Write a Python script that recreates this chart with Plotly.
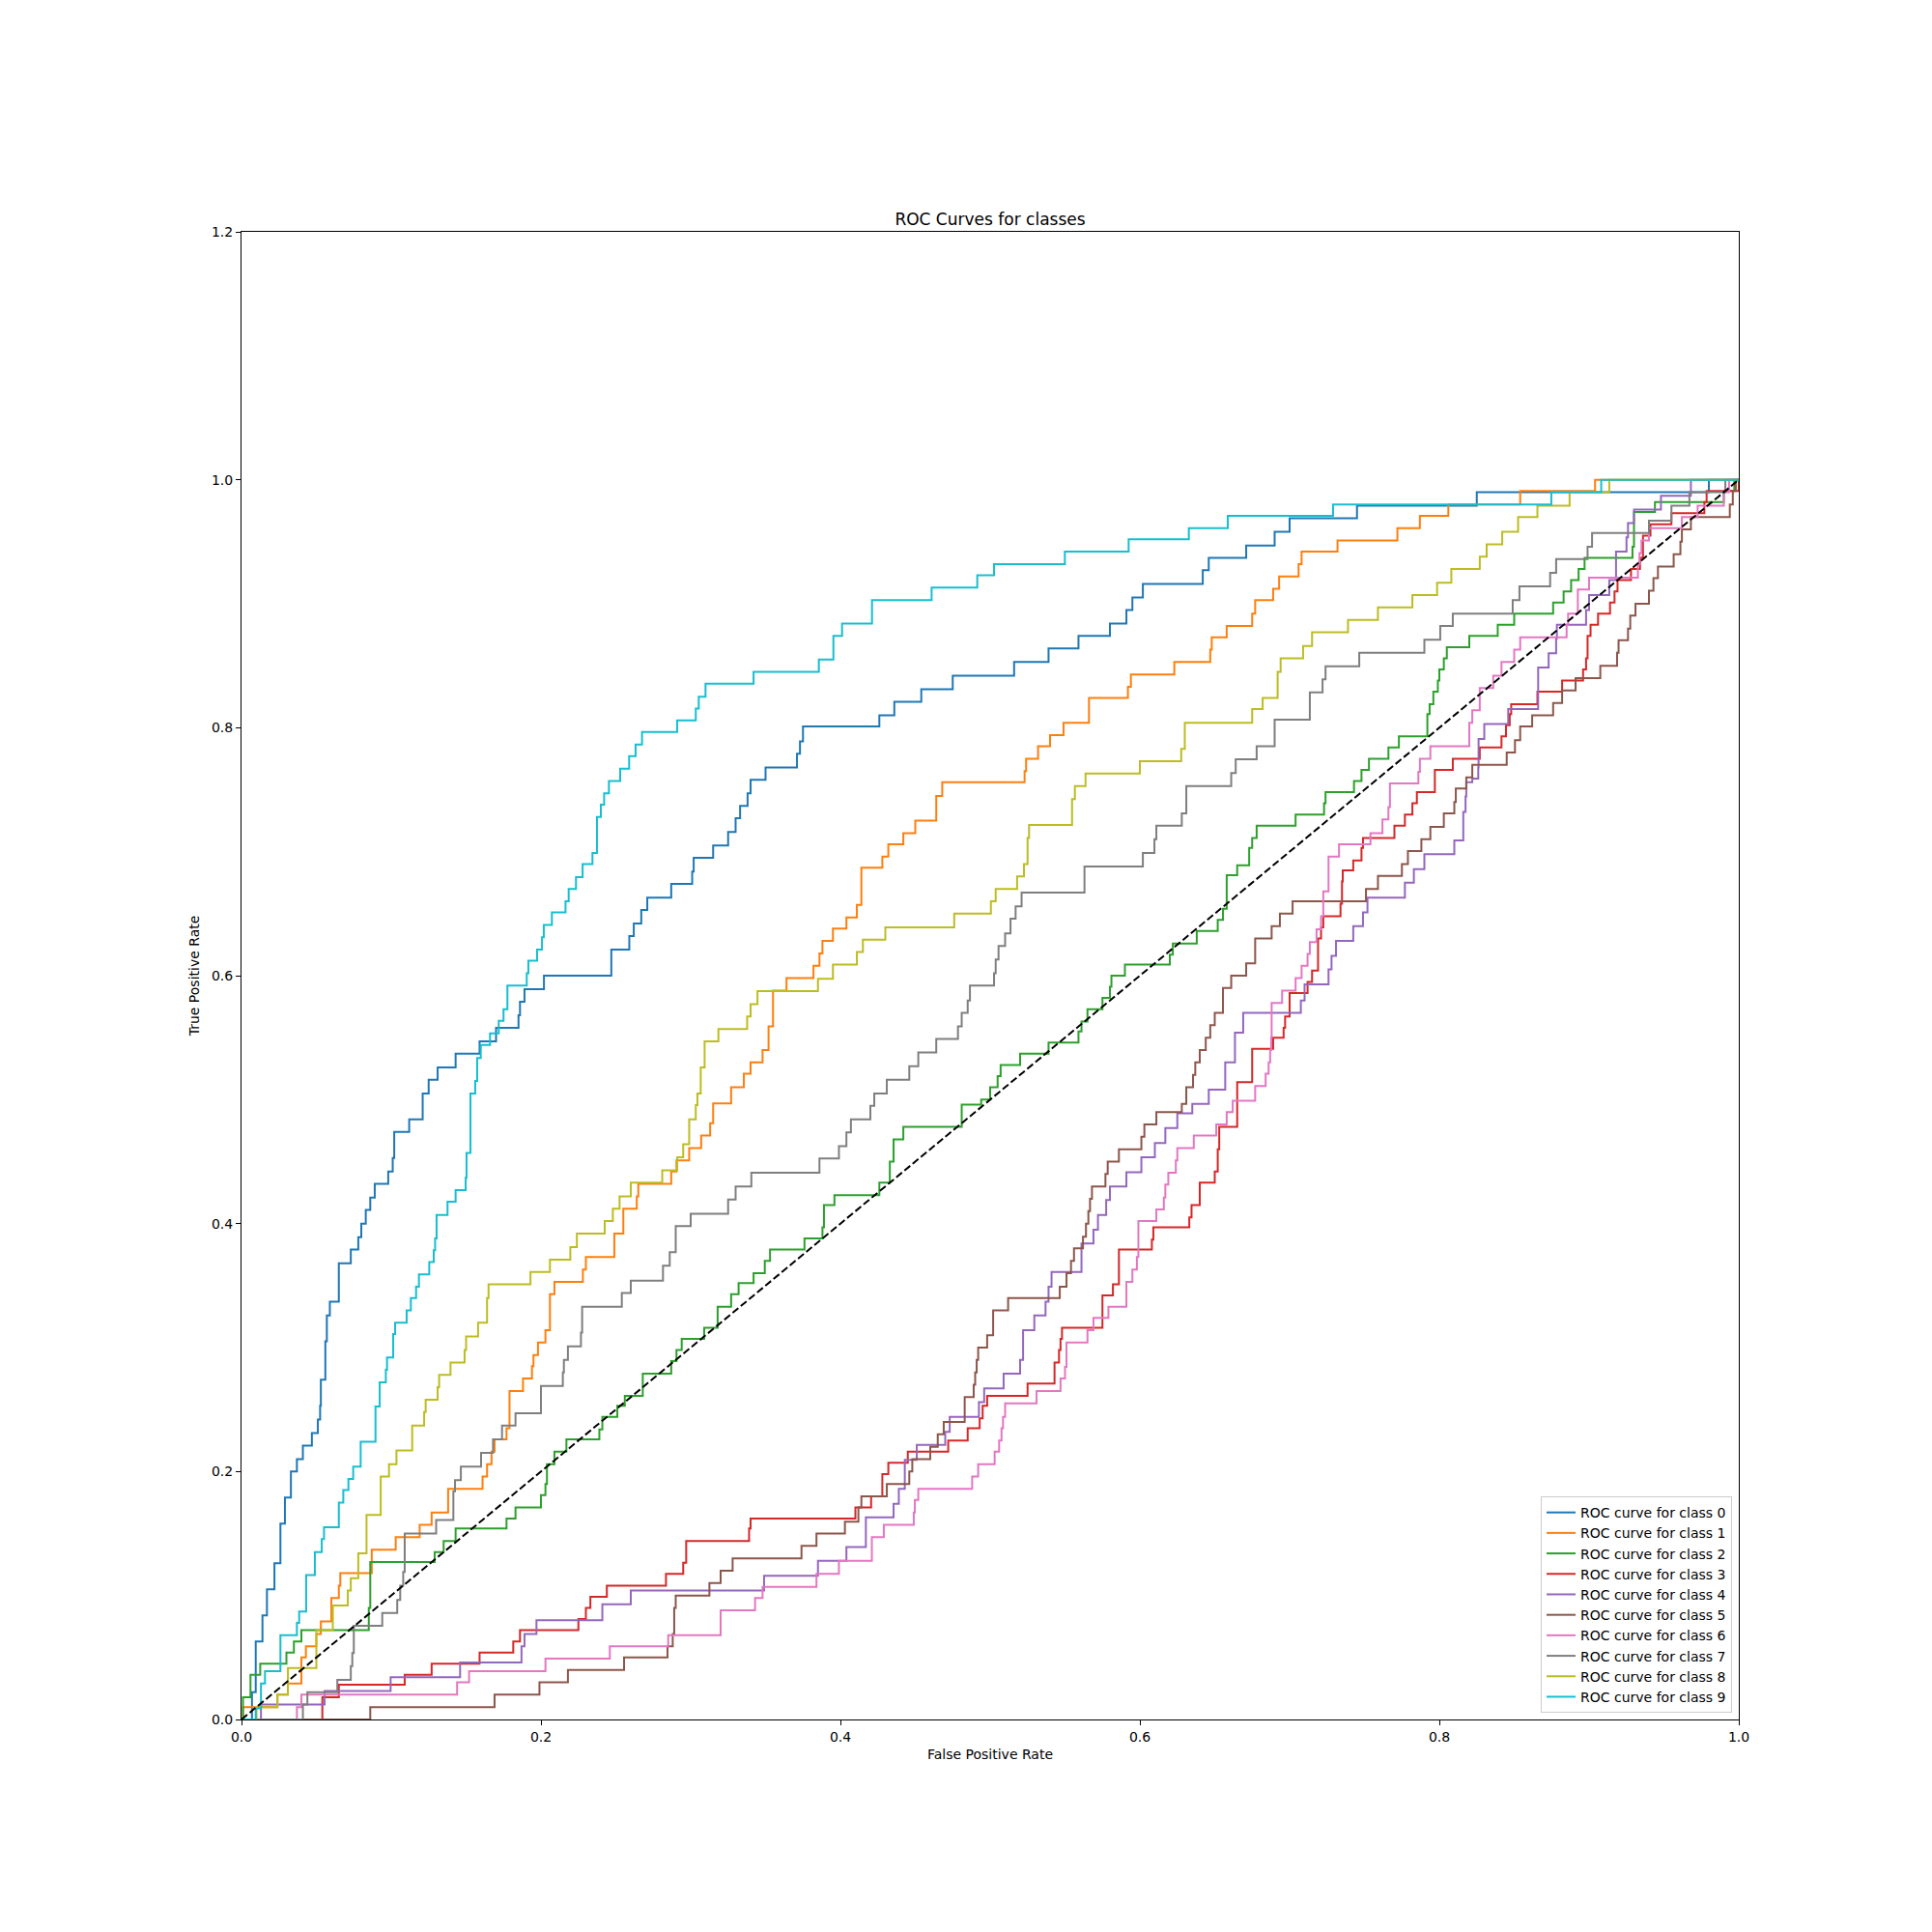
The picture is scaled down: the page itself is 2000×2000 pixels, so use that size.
import plotly.graph_objects as go

# ROC step points (fpr, tpr), one list per class
roc_class0 = [(0.0, 0.0), (0.007, 0.022), (0.0095, 0.063), (0.014, 0.084), (0.017, 0.105), (0.022, 0.126),
              (0.026, 0.158), (0.029, 0.179), (0.033, 0.200), (0.037, 0.210), (0.041, 0.221), (0.047, 0.231),
              (0.051, 0.242), (0.0525, 0.253), (0.053, 0.274), (0.056, 0.305), (0.057, 0.326), (0.059, 0.337),
              (0.065, 0.368), (0.073, 0.379), (0.078, 0.389), (0.080, 0.400), (0.083, 0.411), (0.086, 0.421),
              (0.089, 0.432), (0.098, 0.442), (0.101, 0.453), (0.102, 0.474), (0.112, 0.484), (0.121, 0.505),
              (0.125, 0.516), (0.131, 0.526), (0.143, 0.537), (0.159, 0.547), (0.170, 0.558), (0.185, 0.568),
              (0.186, 0.579), (0.189, 0.589), (0.202, 0.600), (0.247, 0.621), (0.259, 0.632), (0.262, 0.642),
              (0.267, 0.653), (0.271, 0.663), (0.287, 0.674), (0.301, 0.684), (0.302, 0.695), (0.315, 0.705),
              (0.325, 0.716), (0.330, 0.727), (0.333, 0.737), (0.338, 0.747), (0.340, 0.758), (0.350, 0.768),
              (0.371, 0.779), (0.373, 0.789), (0.375, 0.801), (0.426, 0.810), (0.436, 0.821), (0.454, 0.831),
              (0.475, 0.842), (0.516, 0.853), (0.539, 0.864), (0.559, 0.874), (0.580, 0.884), (0.591, 0.895),
              (0.595, 0.905), (0.602, 0.916), (0.642, 0.927), (0.646, 0.937), (0.671, 0.947), (0.690, 0.958),
              (0.700, 0.969), (0.745, 0.979), (0.825, 0.990), (0.980, 1.0), (1.0, 1.0)]

roc_class1 = [(0.0, 0.0), (0.001, 0.010), (0.024, 0.020), (0.031, 0.029), (0.040, 0.050), (0.043, 0.059),
              (0.050, 0.069), (0.053, 0.079), (0.060, 0.098), (0.065, 0.108), (0.066, 0.118), (0.087, 0.137),
              (0.103, 0.147), (0.119, 0.157), (0.127, 0.167), (0.138, 0.186), (0.161, 0.196), (0.164, 0.206),
              (0.167, 0.216), (0.169, 0.226), (0.177, 0.235), (0.179, 0.265), (0.188, 0.275), (0.194, 0.285),
              (0.195, 0.294), (0.198, 0.304), (0.203, 0.314), (0.206, 0.343), (0.209, 0.353), (0.228, 0.363),
              (0.230, 0.373), (0.249, 0.392), (0.255, 0.412), (0.264, 0.422), (0.265, 0.432), (0.287, 0.442),
              (0.2905, 0.451), (0.299, 0.461), (0.307, 0.471), (0.313, 0.481), (0.315, 0.497), (0.327, 0.510),
              (0.3355, 0.521), (0.340, 0.530), (0.348, 0.540), (0.352, 0.559), (0.355, 0.588), (0.364, 0.598),
              (0.382, 0.608), (0.386, 0.618), (0.388, 0.628), (0.395, 0.638), (0.404, 0.647), (0.411, 0.657),
              (0.414, 0.687), (0.428, 0.696), (0.432, 0.706), (0.442, 0.715), (0.450, 0.725), (0.464, 0.745),
              (0.468, 0.756), (0.523, 0.765), (0.524, 0.775), (0.532, 0.785), (0.540, 0.794), (0.549, 0.804),
              (0.566, 0.824), (0.592, 0.833), (0.594, 0.843), (0.623, 0.853), (0.647, 0.863), (0.648, 0.873),
              (0.658, 0.882), (0.675, 0.892), (0.677, 0.903), (0.689, 0.912), (0.693, 0.922), (0.706, 0.932),
              (0.708, 0.942), (0.732, 0.951), (0.772, 0.961), (0.787, 0.971), (0.806, 0.980), (0.854, 0.991),
              (0.904, 1.0), (1.0, 1.0)]

roc_class2 = [(0.0, 0.0), (0.001, 0.018), (0.006, 0.036), (0.0125, 0.045), (0.030, 0.054), (0.035, 0.063),
              (0.040, 0.072), (0.085, 0.090), (0.086, 0.127), (0.129, 0.135), (0.135, 0.144), (0.143, 0.154),
              (0.177, 0.162), (0.183, 0.171), (0.200, 0.181), (0.203, 0.190), (0.204, 0.206), (0.209, 0.216),
              (0.217, 0.226), (0.239, 0.234), (0.241, 0.244), (0.251, 0.253), (0.256, 0.261), (0.268, 0.279),
              (0.287, 0.289), (0.2905, 0.298), (0.294, 0.307), (0.309, 0.316), (0.318, 0.333), (0.327, 0.343),
              (0.332, 0.352), (0.342, 0.360), (0.3495, 0.370), (0.353, 0.379), (0.376, 0.388), (0.388, 0.397),
              (0.389, 0.415), (0.396, 0.423), (0.426, 0.433), (0.433, 0.450), (0.4355, 0.468), (0.442, 0.478),
              (0.481, 0.496), (0.494, 0.500), (0.500, 0.510), (0.505, 0.519), (0.507, 0.528), (0.520, 0.537),
              (0.539, 0.546), (0.559, 0.555), (0.561, 0.563), (0.565, 0.573), (0.575, 0.582), (0.580, 0.591),
              (0.581, 0.600), (0.590, 0.609), (0.620, 0.617), (0.622, 0.626), (0.638, 0.636), (0.652, 0.645),
              (0.6555, 0.654), (0.658, 0.681), (0.665, 0.689), (0.673, 0.703), (0.675, 0.711), (0.678, 0.721),
              (0.704, 0.730), (0.723, 0.739), (0.724, 0.748), (0.743, 0.757), (0.748, 0.766), (0.753, 0.775),
              (0.766, 0.784), (0.773, 0.793), (0.792, 0.811), (0.7935, 0.819), (0.796, 0.829), (0.799, 0.838),
              (0.800, 0.847), (0.803, 0.856), (0.805, 0.865), (0.820, 0.874), (0.839, 0.883), (0.850, 0.892),
              (0.876, 0.901), (0.883, 0.910), (0.888, 0.919), (0.893, 0.928), (0.897, 0.937), (0.929, 0.946),
              (0.930, 0.974), (0.944, 0.982), (0.990, 0.991), (0.997, 1.0), (1.0, 1.0)]

roc_class3 = [(0.0, 0.0), (0.054, 0.018), (0.065, 0.028), (0.109, 0.036), (0.127, 0.045), (0.159, 0.054),
              (0.1815, 0.063), (0.186, 0.072), (0.225, 0.081), (0.230, 0.090), (0.233, 0.099), (0.244, 0.108),
              (0.2835, 0.1175), (0.295, 0.1265), (0.297, 0.144), (0.339, 0.154), (0.340, 0.162), (0.410, 0.171),
              (0.4205, 0.180), (0.428, 0.198), (0.432, 0.207), (0.445, 0.216), (0.472, 0.225), (0.485, 0.235),
              (0.493, 0.243), (0.495, 0.253), (0.498, 0.261), (0.525, 0.271), (0.543, 0.288), (0.546, 0.298),
              (0.547, 0.307), (0.548, 0.316), (0.575, 0.342), (0.582, 0.351), (0.586, 0.379), (0.608, 0.387),
              (0.609, 0.397), (0.633, 0.405), (0.6345, 0.415), (0.640, 0.433), (0.650, 0.442), (0.652, 0.460),
              (0.653, 0.478), (0.665, 0.514), (0.675, 0.541), (0.689, 0.550), (0.696, 0.558), (0.697, 0.567),
              (0.700, 0.586), (0.712, 0.595), (0.715, 0.604), (0.719, 0.630), (0.721, 0.639), (0.7225, 0.648),
              (0.734, 0.658), (0.735, 0.676), (0.7355, 0.685), (0.7425, 0.693), (0.748, 0.703), (0.749, 0.711),
              (0.770, 0.721), (0.777, 0.730), (0.782, 0.739), (0.785, 0.748), (0.797, 0.766), (0.809, 0.775),
              (0.827, 0.784), (0.8415, 0.793), (0.8445, 0.802), (0.847, 0.811), (0.848, 0.819), (0.8655, 0.829),
              (0.882, 0.838), (0.896, 0.847), (0.898, 0.856), (0.899, 0.874), (0.901, 0.883), (0.906, 0.892),
              (0.914, 0.901), (0.917, 0.910), (0.919, 0.919), (0.928, 0.928), (0.934, 0.937), (0.936, 0.955),
              (0.941, 0.964), (0.955, 0.973), (0.977, 0.982), (0.9785, 0.991), (1.0, 1.0)]

roc_class4 = [(0.0, 0.0), (0.013, 0.012), (0.0555, 0.023), (0.0996, 0.034), (0.146, 0.046), (0.187, 0.059),
              (0.189, 0.069), (0.197, 0.080), (0.241, 0.093), (0.260, 0.104), (0.349, 0.116), (0.385, 0.128),
              (0.404, 0.139), (0.417, 0.163), (0.4355, 0.174), (0.439, 0.186), (0.443, 0.2095), (0.451, 0.2215),
              (0.470, 0.232), (0.473, 0.244), (0.4925, 0.256), (0.496, 0.267), (0.509, 0.279), (0.520, 0.290),
              (0.522, 0.314), (0.5295, 0.326), (0.537, 0.337), (0.539, 0.349), (0.541, 0.361), (0.561, 0.384),
              (0.569, 0.395), (0.572, 0.407), (0.5775, 0.419), (0.580, 0.430), (0.591, 0.4415), (0.601, 0.4535),
              (0.610, 0.465), (0.617, 0.477), (0.625, 0.489), (0.635, 0.4965), (0.646, 0.508), (0.657, 0.530),
              (0.6635, 0.554), (0.669, 0.570), (0.7075, 0.580), (0.710, 0.593), (0.726, 0.605), (0.728, 0.616),
              (0.731, 0.628), (0.7425, 0.640), (0.749, 0.651), (0.752, 0.663), (0.777, 0.675), (0.783, 0.686),
              (0.790, 0.698), (0.810, 0.709), (0.816, 0.732), (0.8175, 0.7445), (0.818, 0.756), (0.822, 0.759),
              (0.826, 0.768), (0.8262, 0.791), (0.830, 0.803), (0.846, 0.815), (0.866, 0.8485), (0.873, 0.860),
              (0.878, 0.872), (0.8785, 0.883), (0.898, 0.895), (0.900, 0.907), (0.9135, 0.919), (0.918, 0.942),
              (0.925, 0.9535), (0.926, 0.965), (0.930, 0.976), (0.948, 0.987), (0.968, 1.0), (1.0, 1.0)]

roc_class5 = [(0.0, 0.0), (0.086, 0.010), (0.169, 0.020), (0.199, 0.030), (0.218, 0.040), (0.2555, 0.050),
              (0.2845, 0.059), (0.288, 0.069), (0.289, 0.090), (0.290, 0.100), (0.3125, 0.110), (0.320, 0.120),
              (0.328, 0.130), (0.374, 0.140), (0.384, 0.150), (0.403, 0.1595), (0.412, 0.171), (0.414, 0.180),
              (0.431, 0.190), (0.446, 0.200), (0.448, 0.210), (0.460, 0.220), (0.465, 0.230), (0.469, 0.240),
              (0.483, 0.260), (0.489, 0.270), (0.490, 0.280), (0.491, 0.290), (0.492, 0.300), (0.498, 0.310),
              (0.502, 0.330), (0.512, 0.340), (0.5465, 0.349), (0.551, 0.360), (0.554, 0.370), (0.556, 0.380),
              (0.562, 0.3895), (0.564, 0.400), (0.5656, 0.410), (0.5667, 0.420), (0.568, 0.430), (0.577, 0.440),
              (0.5785, 0.450), (0.586, 0.460), (0.601, 0.470), (0.603, 0.480), (0.611, 0.490), (0.628, 0.4965),
              (0.631, 0.510), (0.6355, 0.520), (0.637, 0.530), (0.640, 0.540), (0.644, 0.550), (0.647, 0.560),
              (0.650, 0.570), (0.6555, 0.590), (0.661, 0.600), (0.671, 0.610), (0.677, 0.630), (0.688, 0.640),
              (0.6935, 0.650), (0.702, 0.660), (0.751, 0.670), (0.759, 0.6805), (0.775, 0.690), (0.779, 0.7005),
              (0.788, 0.710), (0.794, 0.720), (0.803, 0.731), (0.810, 0.740), (0.811, 0.751), (0.818, 0.760),
              (0.822, 0.770), (0.845, 0.780), (0.8505, 0.790), (0.854, 0.801), (0.862, 0.810), (0.876, 0.820),
              (0.882, 0.830), (0.891, 0.840), (0.9075, 0.850), (0.9187, 0.8605), (0.9197, 0.8705), (0.926, 0.880),
              (0.9275, 0.8905), (0.931, 0.900), (0.940, 0.9105), (0.943, 0.9206), (0.946, 0.930), (0.9565, 0.940),
              (0.961, 0.950), (0.962, 0.960), (0.968, 0.970), (0.994, 0.980), (0.996, 0.991), (0.998, 1.0),
              (1.0, 1.0)]

roc_class6 = [(0.0, 0.0), (0.037, 0.010), (0.040, 0.020), (0.144, 0.030), (0.152, 0.039), (0.203, 0.049),
              (0.246, 0.059), (0.285, 0.068), (0.320, 0.088), (0.343, 0.098), (0.348, 0.107), (0.384, 0.1175),
              (0.399, 0.128), (0.421, 0.147), (0.429, 0.157), (0.449, 0.167), (0.4497, 0.177), (0.452, 0.186),
              (0.488, 0.196), (0.492, 0.206), (0.503, 0.216), (0.506, 0.225), (0.5076, 0.235), (0.5086, 0.244),
              (0.510, 0.255), (0.531, 0.265), (0.547, 0.275), (0.550, 0.2845), (0.551, 0.304), (0.565, 0.314),
              (0.569, 0.324), (0.579, 0.333), (0.591, 0.353), (0.595, 0.363), (0.598, 0.373), (0.599, 0.402),
              (0.611, 0.4115), (0.616, 0.421), (0.617, 0.4315), (0.619, 0.441), (0.624, 0.451), (0.625, 0.461),
              (0.636, 0.471), (0.651, 0.480), (0.658, 0.490), (0.662, 0.499), (0.677, 0.511), (0.684, 0.521),
              (0.686, 0.530), (0.687, 0.540), (0.6877, 0.550), (0.688, 0.578), (0.695, 0.588), (0.704, 0.598),
              (0.708, 0.608), (0.712, 0.6175), (0.7135, 0.627), (0.718, 0.6375), (0.721, 0.648), (0.7225, 0.668),
              (0.726, 0.696), (0.733, 0.706), (0.754, 0.715), (0.762, 0.726), (0.766, 0.736), (0.767, 0.755),
              (0.786, 0.7645), (0.787, 0.775), (0.794, 0.785), (0.820, 0.804), (0.822, 0.814), (0.827, 0.832),
              (0.836, 0.842), (0.8415, 0.853), (0.850, 0.863), (0.854, 0.873), (0.885, 0.883), (0.886, 0.892),
              (0.8925, 0.9115), (0.900, 0.921), (0.9326, 0.932), (0.9337, 0.941), (0.935, 0.951), (0.940, 0.961),
              (0.962, 0.970), (0.9725, 0.979), (0.990, 0.990), (0.9935, 1.0), (1.0, 1.0)]

roc_class7 = [(0.0, 0.0), (0.041, 0.012), (0.044, 0.022), (0.064, 0.032), (0.073, 0.043), (0.074, 0.0535),
              (0.075, 0.0755), (0.094, 0.086), (0.104, 0.0965), (0.106, 0.108), (0.108, 0.119), (0.109, 0.150),
              (0.130, 0.161), (0.1415, 0.184), (0.1426, 0.193), (0.1465, 0.204), (0.160, 0.215), (0.168, 0.226),
              (0.174, 0.237), (0.183, 0.247), (0.200, 0.269), (0.2146, 0.280), (0.2153, 0.290), (0.218, 0.301),
              (0.2267, 0.312), (0.2275, 0.333), (0.254, 0.344), (0.260, 0.354), (0.2815, 0.366), (0.286, 0.377),
              (0.290, 0.398), (0.300, 0.408), (0.325, 0.4195), (0.330, 0.430), (0.3405, 0.441), (0.386, 0.4525),
              (0.399, 0.4625), (0.404, 0.4735), (0.407, 0.484), (0.420, 0.495), (0.4226, 0.505), (0.431, 0.516),
              (0.446, 0.527), (0.452, 0.538), (0.464, 0.549), (0.4785, 0.559), (0.481, 0.570), (0.485, 0.580),
              (0.4865, 0.592), (0.5026, 0.602), (0.5037, 0.613), (0.5056, 0.624), (0.510, 0.634), (0.5136, 0.646),
              (0.517, 0.656), (0.521, 0.667), (0.563, 0.688), (0.602, 0.699), (0.6097, 0.710), (0.611, 0.721),
              (0.628, 0.731), (0.631, 0.753), (0.661, 0.7635), (0.664, 0.7745), (0.678, 0.785), (0.690, 0.8065),
              (0.7135, 0.8285), (0.722, 0.839), (0.724, 0.8495), (0.7465, 0.8605), (0.790, 0.871), (0.8006, 0.882),
              (0.809, 0.892), (0.849, 0.903), (0.8535, 0.914), (0.874, 0.925), (0.878, 0.936), (0.899, 0.946),
              (0.902, 0.957), (0.940, 0.967), (0.955, 0.979), (0.967, 0.990), (0.991, 1.0), (1.0, 1.0)]

roc_class8 = [(0.0, 0.0), (0.010, 0.010), (0.024, 0.020), (0.031, 0.0415), (0.050, 0.072), (0.061, 0.092),
              (0.071, 0.104), (0.073, 0.114), (0.078, 0.134), (0.0835, 0.165), (0.093, 0.196), (0.0985, 0.206),
              (0.1035, 0.217), (0.114, 0.237), (0.122, 0.248), (0.123, 0.258), (0.131, 0.268), (0.132, 0.278),
              (0.1396, 0.288), (0.149, 0.298), (0.150, 0.309), (0.158, 0.320), (0.164, 0.340), (0.165, 0.351),
              (0.193, 0.361), (0.206, 0.371), (0.2196, 0.381), (0.224, 0.392), (0.2426, 0.402), (0.248, 0.412),
              (0.2525, 0.422), (0.260, 0.433), (0.281, 0.443), (0.291, 0.4535), (0.295, 0.464), (0.299, 0.484),
              (0.3034, 0.4955), (0.3045, 0.505), (0.3067, 0.526), (0.3093, 0.547), (0.3185, 0.557), (0.3377, 0.567),
              (0.340, 0.577), (0.3446, 0.5875), (0.385, 0.5975), (0.395, 0.609), (0.411, 0.619), (0.415, 0.629),
              (0.430, 0.639), (0.476, 0.650), (0.5005, 0.660), (0.5037, 0.670), (0.518, 0.680), (0.5226, 0.690),
              (0.525, 0.711), (0.526, 0.7215), (0.5547, 0.7425), (0.5566, 0.753), (0.5637, 0.763), (0.600, 0.773),
              (0.6276, 0.783), (0.630, 0.804), (0.675, 0.815), (0.682, 0.824), (0.692, 0.845), (0.694, 0.856),
              (0.709, 0.866), (0.715, 0.877), (0.739, 0.887), (0.759, 0.897), (0.782, 0.907), (0.7985, 0.917),
              (0.808, 0.928), (0.827, 0.938), (0.8316, 0.948), (0.842, 0.958), (0.8526, 0.970), (0.8655, 0.979),
              (0.887, 0.990), (0.9135, 1.0), (1.0, 1.0)]

roc_class9 = [(0.0, 0.0), (0.0095, 0.009), (0.013, 0.029), (0.0157, 0.039), (0.026, 0.068), (0.037, 0.078),
              (0.0385, 0.087), (0.0432, 0.1165), (0.049, 0.135), (0.0536, 0.1456), (0.0551, 0.155), (0.065, 0.175),
              (0.068, 0.185), (0.0714, 0.194), (0.0746, 0.204), (0.0796, 0.224), (0.0895, 0.2525), (0.0923, 0.272),
              (0.0964, 0.282), (0.0972, 0.292), (0.1013, 0.311), (0.1026, 0.320), (0.1103, 0.330), (0.1131, 0.340),
              (0.1166, 0.349), (0.1185, 0.359), (0.1254, 0.369), (0.1284, 0.3785), (0.1293, 0.388), (0.1303, 0.407),
              (0.1376, 0.4176), (0.143, 0.427), (0.1497, 0.437), (0.1503, 0.457), (0.1529, 0.505), (0.1561, 0.515),
              (0.1574, 0.5335), (0.1598, 0.544), (0.166, 0.5535), (0.1718, 0.5635), (0.175, 0.573), (0.1776, 0.592),
              (0.1905, 0.602), (0.1916, 0.612), (0.1974, 0.621), (0.2007, 0.631), (0.2019, 0.641), (0.2073, 0.651),
              (0.2164, 0.660), (0.2185, 0.670), (0.2234, 0.6795), (0.2278, 0.690), (0.2344, 0.699), (0.2374, 0.728),
              (0.240, 0.738), (0.2422, 0.747), (0.2454, 0.757), (0.2529, 0.767), (0.2589, 0.777), (0.2632, 0.7865),
              (0.2675, 0.7965), (0.291, 0.806), (0.3034, 0.8155), (0.3054, 0.825), (0.3099, 0.8356), (0.342, 0.845),
              (0.3856, 0.855), (0.3953, 0.874), (0.4011, 0.884), (0.4211, 0.903), (0.4609, 0.913), (0.4914, 0.923),
              (0.5026, 0.932), (0.5499, 0.942), (0.5925, 0.952), (0.6327, 0.961), (0.6587, 0.971), (0.729, 0.980),
              (0.8748, 0.990), (0.9081, 1.0), (1.0, 1.0)]

curves = [roc_class0, roc_class1, roc_class2, roc_class3, roc_class4,
          roc_class5, roc_class6, roc_class7, roc_class8, roc_class9]
class_labels = ["ROC curve for class %d" % i for i in range(10)]
colors = ["#1f77b4", "#ff7f0e", "#2ca02c", "#d62728", "#9467bd",
          "#8c564b", "#e377c2", "#7f7f7f", "#bcbd22", "#17becf"]

diag_x = [0, 1]
diag_y = [0, 1]

x_ticks = [0.0, 0.2, 0.4, 0.6, 0.8, 1.0]
y_ticks = [0.0, 0.2, 0.4, 0.6, 0.8, 1.0, 1.2]

FONT = "DejaVu Sans"


def main():
    fig = go.Figure()

    for i, pts in enumerate(curves):
        fpr = [p[0] for p in pts]
        tpr = [p[1] for p in pts]
        # step shape: go across first, then up, like the ROC corners
        fig.add_trace(go.Scatter(
            x=fpr, y=tpr, mode="lines", name=class_labels[i],
            legendgroup=str(i),
            line=dict(color=colors[i], width=2, shape="hv"),
        ))

    # chance line
    fig.add_trace(go.Scatter(
        x=diag_x, y=diag_y, mode="lines", showlegend=False,
        line=dict(color="black", width=2, dash="7.7px,3.3px"),
    ))

    axis_common = dict(
        showgrid=False, zeroline=False,
        showline=True, linecolor="black", linewidth=1.1, mirror=True,
        ticks="outside", ticklen=5, tickwidth=1.1, tickcolor="black",
        tickfont=dict(family=FONT, size=14, color="black"),
        tickformat=".1f",
    )

    # margins are 8px less on left/top to offset the page's body margin
    fig.update_layout(
        width=2000, height=2000,
        margin=dict(l=242, r=208, t=232, b=228, autoexpand=False),
        paper_bgcolor="white", plot_bgcolor="white",
        font=dict(family=FONT, size=14, color="black"),
        title=dict(
            text="ROC Curves for classes",
            font=dict(family=FONT, size=17, color="black"),
            x=0.5, xref="paper", xanchor="center",
            y=1, yref="paper", yanchor="bottom",
            pad=dict(b=7),
        ),
        xaxis=dict(
            range=[0, 1], tickvals=x_ticks,
            title=dict(text="False Positive Rate", standoff=6,
                       font=dict(family=FONT, size=14, color="black")),
            **axis_common,
        ),
        yaxis=dict(
            range=[0, 1.2], tickvals=y_ticks,
            title=dict(text="True Positive Rate", standoff=8,
                       font=dict(family=FONT, size=14, color="black")),
            **axis_common,
        ),
        legend=dict(
            x=0.9955, xanchor="right", y=0.0045, yanchor="bottom",
            bgcolor="rgba(255,255,255,0.8)", bordercolor="#cccccc", borderwidth=1,
            font=dict(family=FONT, size=14, color="black"),
            tracegroupgap=0, itemwidth=30,
        ),
        showlegend=True,
    )

    fig.write_html("out.html")


if __name__ == '__main__':
    main()
